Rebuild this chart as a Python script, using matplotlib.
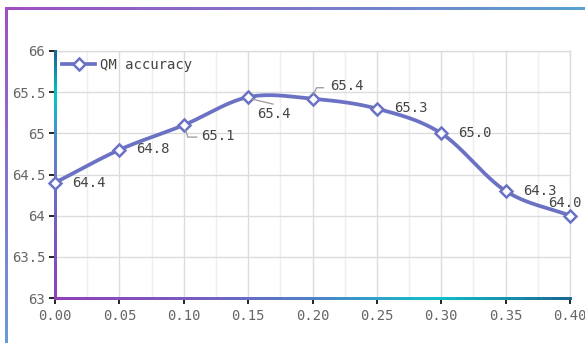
import numpy as np
import matplotlib
matplotlib.use("Agg")
import matplotlib.pyplot as plt
from matplotlib.collections import LineCollection
from matplotlib.colors import LinearSegmentedColormap
from matplotlib.ticker import MultipleLocator, FormatStrFormatter, FuncFormatter
from matplotlib.lines import Line2D

# data
x_vals = [0.00, 0.05, 0.10, 0.15, 0.20, 0.25, 0.30, 0.35, 0.40]
accuracy = [64.4, 64.8, 65.1, 65.44, 65.42, 65.3, 65.0, 64.3, 64.0]
series_name = "QM accuracy"

LINE_COLOR = "#6b72c4"
FONT = "DejaVu Sans Mono"

plt.rcParams["font.family"] = FONT

fig = plt.figure(figsize=(5.85, 3.43), dpi=100)
ax = fig.add_axes([55 / 585, 45 / 343, 515 / 585, 247 / 343])

ax.set_xlim(0, 0.4)
ax.set_ylim(63, 66)

# grid
ax.xaxis.set_major_locator(MultipleLocator(0.05))
ax.xaxis.set_minor_locator(MultipleLocator(0.025))
ax.yaxis.set_major_locator(MultipleLocator(0.5))
ax.grid(True, which="major", color="#dcdcdc", linewidth=1.0)
ax.grid(True, which="minor", axis="x", color="#efefef", linewidth=1.0)
ax.set_axisbelow(True)
ax.tick_params(which="minor", length=0)
for s in ax.spines.values():
    s.set_visible(False)
ax.plot([0, 1], [1, 1], transform=ax.transAxes, color="#dcdcdc", lw=1.0, clip_on=False, zorder=0)
ax.plot([1, 1], [0, 1], transform=ax.transAxes, color="#dcdcdc", lw=1.0, clip_on=False, zorder=0)

ax.xaxis.set_major_formatter(FormatStrFormatter("%.2f"))
ax.yaxis.set_major_formatter(FuncFormatter(lambda v, p: "%g" % v))
ax.tick_params(axis="both", which="major", labelsize=10, labelcolor="#666666", length=4, width=1.2)
ax.tick_params(axis="y", pad=3)
ax.tick_params(axis="x", pad=4)

# gradient axis lines
left_cmap = LinearSegmentedColormap.from_list(
    "left", ["#9040b8", "#8050c0", "#7060c0", "#6a78c8", "#4a8ac8", "#00c8c8", "#1a6a95"])
bottom_cmap = LinearSegmentedColormap.from_list(
    "bottom", ["#9040b8", "#7a5ac0", "#5080c8", "#10c0c8", "#1a6a95"])


def gradient_line(xs, ys, cmap, transform, lw=2.0):
    pts = np.column_stack([xs, ys]).reshape(-1, 1, 2)
    segs = np.concatenate([pts[:-1], pts[1:]], axis=1)
    lc = LineCollection(segs, cmap=cmap, linewidths=lw, transform=transform, clip_on=False,
                        zorder=3, capstyle="projecting", antialiaseds=False)
    lc.set_array(np.linspace(0, 1, len(segs)))
    return lc


t = np.linspace(0, 1, 60)
ax.add_collection(gradient_line(np.zeros_like(t), t, left_cmap, ax.transAxes))
ax.add_collection(gradient_line(t, np.zeros_like(t), bottom_cmap, ax.transAxes))

for tk in ax.yaxis.get_major_ticks():
    v = (tk.get_loc() - 63) / 3
    tk.tick1line.set_color(left_cmap(min(max(v, 0), 1)))
for tk in ax.xaxis.get_major_ticks():
    v = tk.get_loc() / 0.4
    tk.tick1line.set_color(bottom_cmap(min(max(v, 0), 1)))

# outer frame (top and left edges)
fig.add_artist(gradient_line(np.linspace(6, 586, 60) / 585, np.full(60, 1 - 8 / 343),
                             LinearSegmentedColormap.from_list("top", ["#a050c0", "#5aa0d0"]),
                             fig.transFigure, lw=2.0))
fig.add_artist(gradient_line(np.full(60, 6 / 585), np.linspace(1 - 8 / 343, -0.01, 60),
                             LinearSegmentedColormap.from_list("lft", ["#a050c0", "#6a9ad8"]),
                             fig.transFigure, lw=2.0))

# smooth curve (cardinal spline through the points)
px = np.array(x_vals)
py = np.array(accuracy)
n = len(px)
mx = np.zeros(n)
my = np.zeros(n)
for i in range(n):
    a = max(i - 1, 0)
    b = min(i + 1, n - 1)
    mx[i] = (px[b] - px[a]) / (b - a)
    my[i] = (py[b] - py[a]) / (b - a)
sx, sy = [], []
for i in range(n - 1):
    s = np.linspace(0, 1, 40)
    h00 = 2 * s**3 - 3 * s**2 + 1
    h10 = s**3 - 2 * s**2 + s
    h01 = -2 * s**3 + 3 * s**2
    h11 = s**3 - s**2
    sx.extend(h00 * px[i] + h10 * mx[i] + h01 * px[i + 1] + h11 * mx[i + 1])
    sy.extend(h00 * py[i] + h10 * my[i] + h01 * py[i + 1] + h11 * my[i + 1])
ax.plot(sx, sy, color=LINE_COLOR, lw=2.7, zorder=4, clip_on=False)
ax.plot(px, py, linestyle="none", marker="D", markersize=6.5, markerfacecolor="white",
        markeredgecolor=LINE_COLOR, markeredgewidth=1.8, zorder=5, clip_on=False)

# data labels
label_offsets = [(17, 0), (17, 1), (17, -11), (9, -17), (18, 13), (17, 1), (17, 0), (17, 0), (-22, 13)]
for xv, yv, off in zip(x_vals, accuracy, label_offsets):
    ax.annotate("%.1f" % yv, (xv, yv), xytext=off, textcoords="offset pixels",
                ha="left", va="center", fontsize=10, color="#444444", zorder=6)

# leader lines for the crowded labels
leaders = {2: [(2, -5), (4, -12), (13, -12)],
           3: [(4, -2), (25, -7)],
           4: [(1, 4), (4, 11), (11, 11)]}
for idx, path in leaders.items():
    base = ax.transData.transform((x_vals[idx], accuracy[idx]))
    pts = np.array([[base[0] + dx, base[1] + dy] for dx, dy in path])
    fig.add_artist(Line2D(pts[:, 0], pts[:, 1], transform=None, color="#999999", lw=0.9, zorder=6))

# legend
handle = Line2D([], [], color=LINE_COLOR, lw=2.7, marker="D", markersize=6.5,
                markerfacecolor="white", markeredgecolor=LINE_COLOR, markeredgewidth=1.8)
leg = ax.legend([handle], [series_name], loc="upper left", frameon=False, fontsize=10,
                handlelength=2.4, handletextpad=0.3, borderaxespad=0.0,
                bbox_to_anchor=(0.003, 0.995), labelcolor="#444444")

fig.savefig("out.png", dpi=100, facecolor="white")
